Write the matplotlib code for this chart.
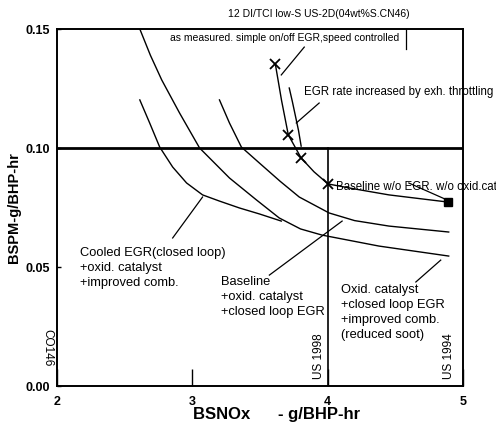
import numpy as np
import matplotlib
matplotlib.use('Agg')
from matplotlib import pyplot as plt

plt.rcParams['font.family'] = ['Liberation Sans', 'DejaVu Sans']

# measured points (x markers) + end point (square), on/off EGR
egr_x = [3.614, 3.710, 3.805, 4.004]
egr_y = [0.1353, 0.1055, 0.0958, 0.0849]
egr_line_x = [3.614, 3.660, 3.710, 3.805, 3.900, 4.004, 4.200, 4.454, 4.700, 4.889]
egr_line_y = [0.1353, 0.1200, 0.1055, 0.0958, 0.0900, 0.0849, 0.0828, 0.0803, 0.0786, 0.0773]
base_x = [4.889]
base_y = [0.0773]

# EGR rate increased by exhaust throttling
thr_x = [3.717, 3.740, 3.761, 3.785, 3.805]
thr_y = [0.1252, 0.1195, 0.1139, 0.1075, 0.1008]

# Oxid. catalyst + closed loop EGR + improved comb.
oxi_x = [2.612, 2.690, 2.774, 2.906, 3.054, 3.275, 3.474, 3.643, 3.800, 3.960, 4.380, 4.896]
oxi_y = [0.1500, 0.1390, 0.1286, 0.1147, 0.1000, 0.0874, 0.0782, 0.0706, 0.0660, 0.0634, 0.0588, 0.0546]

# Baseline + oxid. catalyst + closed loop EGR
bas_x = [3.201, 3.275, 3.363, 3.496, 3.650, 3.791, 4.012, 4.200, 4.454, 4.896]
bas_y = [0.1202, 0.1105, 0.1004, 0.0937, 0.0860, 0.0794, 0.0727, 0.0695, 0.0672, 0.0647]

# Cooled EGR (closed loop) + oxid. catalyst + improved comb.
coo_x = [2.612, 2.685, 2.759, 2.855, 2.958, 3.076, 3.201, 3.349, 3.496, 3.658]
coo_y = [0.1202, 0.1105, 0.1004, 0.0920, 0.0853, 0.0803, 0.0777, 0.0748, 0.0723, 0.0693]

# leader lines (start, end)
leaders = [
    ([3.828, 3.658], [0.1424, 0.1307]),
    ([3.938, 3.769], [0.1189, 0.1105]),
    ([4.601, 4.867], [0.0853, 0.0786]),
    ([2.855, 3.076], [0.0622, 0.0794]),
    ([3.570, 4.108], [0.0466, 0.0693]),
    ([4.653, 4.837], [0.0437, 0.0529]),
]

xticks = [2, 3, 4, 5]
yticks = [0.00, 0.05, 0.10, 0.15]

fig = plt.figure(figsize=(4.96, 4.24), dpi=100)
ax = fig.add_axes([0.115, 0.0896, 0.818, 0.842])

lw = 1.0
ax.plot(egr_line_x, egr_line_y, color='black', lw=lw)
ax.plot(egr_x, egr_y, 'x', color='black', ms=7, mew=1.3)
ax.plot(base_x, base_y, 's', color='black', ms=6)
ax.plot(thr_x, thr_y, color='black', lw=lw)
ax.plot(oxi_x, oxi_y, color='black', lw=lw)
ax.plot(bas_x, bas_y, color='black', lw=lw)
ax.plot(coo_x, coo_y, color='black', lw=lw)
for lx, ly in leaders:
    ax.plot(lx, ly, color='black', lw=0.9)

# limits
ax.axhline(0.10, color='black', lw=2)
ax.plot([4, 4], [0, 0.10], color='black', lw=1.2)
# piece of the caption box
ax.plot([4.579, 4.579], [0.15, 0.1415], color='black', lw=0.9)

ax.set_xlim(2, 5)
ax.set_ylim(0, 0.15)
ax.set_xticks(xticks)
ax.set_xticklabels(['2', '3', '4', '5'])
ax.set_yticks(yticks)
ax.set_yticklabels(['0.00', '0.05', '0.10', '0.15'])
ax.tick_params(axis='x', direction='in', length=12, width=1, pad=7, labelsize=9)
ax.tick_params(axis='y', direction='in', length=3, width=1, pad=5, labelsize=9)
for lab in ax.get_xticklabels() + ax.get_yticklabels():
    lab.set_fontweight('bold')
for s in ax.spines.values():
    s.set_linewidth(1.4)

ax.set_xlabel('BSNOx      - g/BHP-hr', fontsize=12, fontweight='bold')
ax.xaxis.set_label_coords(0.542, -0.058)
ax.set_ylabel('BSPM-g/BHP-hr', fontsize=10.5, fontweight='bold', labelpad=3)

fs = 7.5
bfs = 9.3
ax.text(3.938, 0.1563, '12 DI/TCI low-S US-2D(04wt%S.CN46)', fontsize=fs,
        ha='center', va='center', clip_on=False)
ax.text(2.833, 0.1462, 'as measured. simple on/off EGR,speed controlled', fontsize=fs,
        ha='left', va='center')
ax.text(3.828, 0.1235, 'EGR rate increased by exh. throttling', fontsize=8.3,
        ha='left', va='center', clip_on=False)
ax.text(4.063, 0.0835, 'Baseline w/o EGR. w/o oxid.cat', fontsize=8.3,
        ha='left', va='center', clip_on=False)
ax.text(2.17, 0.0585, 'Cooled EGR(closed loop)\n+oxid. catalyst\n+improved comb.',
        fontsize=bfs, ha='left', va='top', linespacing=1.32)
ax.text(3.216, 0.0463, 'Baseline\n+oxid. catalyst\n+closed loop EGR',
        fontsize=bfs, ha='left', va='top', linespacing=1.32)
ax.text(4.10, 0.0429, 'Oxid. catalyst\n+closed loop EGR\n+improved comb.\n(reduced soot)',
        fontsize=bfs, ha='left', va='top', linespacing=1.32)
ax.text(3.938, 0.0125, 'US 1998', fontsize=8.5, rotation=90, ha='center', va='center')
ax.text(4.896, 0.0125, 'US 1994', fontsize=8.5, rotation=90, ha='center', va='center')
ax.text(1.926, 0.016, 'CO146', fontsize=8.5, rotation=270, ha='center', va='center',
        clip_on=False)

fig.savefig('out.png', dpi=100)
